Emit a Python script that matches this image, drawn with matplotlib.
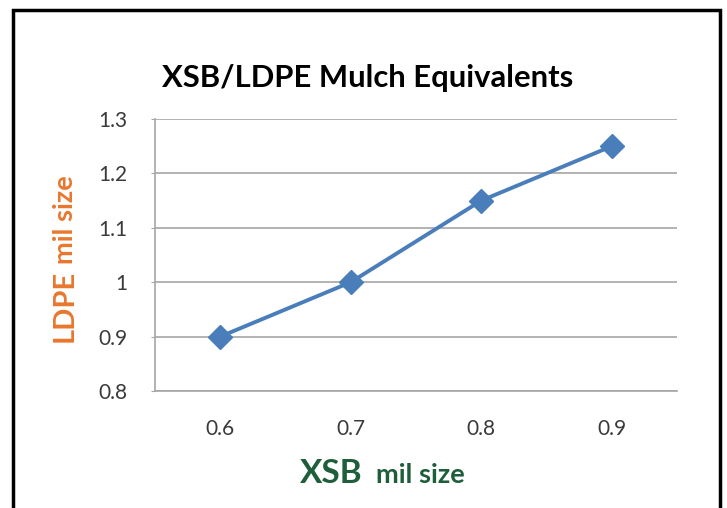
import matplotlib.pyplot as plt
from matplotlib.patches import Rectangle

# Data
xsb_sizes = ["0.6", "0.7", "0.8", "0.9"]
ldpe_sizes = [0.9, 1.0, 1.15, 1.25]
y_ticks = [0.8, 0.9, 1.0, 1.1, 1.2, 1.3]
y_tick_labels = ["0.8", "0.9", "1", "1.1", "1.2", "1.3"]

plt.rcParams['font.family'] = ['Lato', 'DejaVu Sans']

fig = plt.figure(figsize=(7.27, 5.08), dpi=100)
ax = fig.add_axes([0.2132, 0.2303, 0.718, 0.5354])

# black frame round the whole chart (bottom edge runs off the picture)
fig.patches.append(Rectangle((13 / 727, -0.05), (720 - 13) / 727, 1.05 - 10 / 508,
                             transform=fig.transFigure, fill=False,
                             edgecolor='black', linewidth=2.5, zorder=10))

xpos = range(len(xsb_sizes))
ax.plot(xpos, ldpe_sizes, color='#4A7EBB', linewidth=2.8,
        marker='D', markersize=12, markerfacecolor='#4A7EBB',
        markeredgecolor='#4A7EBB', zorder=3)

ax.set_xlim(-0.5, len(xsb_sizes) - 0.5)
ax.set_ylim(0.8, 1.3)
ax.set_xticks(list(xpos))
ax.set_xticklabels(xsb_sizes)
ax.set_yticks(y_ticks)
ax.set_yticklabels(y_tick_labels)
ax.grid(axis='y', color='#A6A6A6', linewidth=1.2)
ax.set_axisbelow(True)

for side in ['top', 'right']:
    ax.spines[side].set_visible(False)
for side in ['left', 'bottom']:
    ax.spines[side].set_color('#A6A6A6')
    ax.spines[side].set_linewidth(1.2)

ax.tick_params(axis='y', length=3, color='#A6A6A6', pad=17, labelsize=15, labelcolor='#3A3A3A')
ax.tick_params(axis='x', length=0, pad=20, labelsize=15, labelcolor='#3A3A3A')

# title
fig.text(368 / 727, 1 - 87 / 508, "XSB/LDPE Mulch Equivalents", ha='center', va='baseline',
         fontsize=22.3, fontweight='bold', color='black')

# x label, mixed sizes
green = '#1E5E3B'
fig.text(363 / 727, 1 - 483 / 508, "XSB", ha='right', va='baseline',
         fontsize=24, fontweight='bold', color=green)
fig.text(376 / 727, 1 - 483 / 508, "mil size", ha='left', va='baseline',
         fontsize=19.5, fontweight='bold', color=green)

# y label, mixed sizes (rotated text reads bottom to top)
orange = '#E8772E'
fig.text(73 / 727, 1 - 342 / 508, "LDPE", ha='left', va='baseline', rotation=90,
         rotation_mode='anchor', fontsize=21, fontweight='bold', color=orange)
fig.text(73 / 727, 1 - 264 / 508, "mil size", ha='left', va='baseline', rotation=90,
         rotation_mode='anchor', fontsize=19.5, fontweight='bold', color=orange)

fig.savefig('out.png', dpi=100)
